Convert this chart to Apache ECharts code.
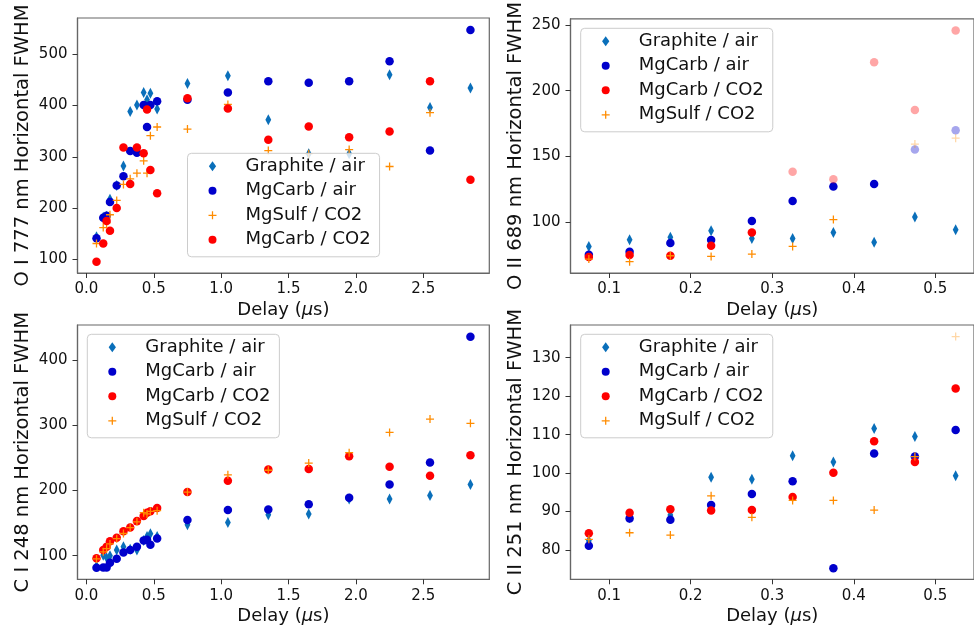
<!DOCTYPE html>
<html>
<head>
<meta charset="utf-8">
<script src="https://cdn.jsdelivr.net/npm/echarts@6/dist/echarts.min.js"></script>
<style>
  html, body { margin: 0; padding: 0; background: #fff; }
  #chart { width: 974px; height: 628px; }
</style>
</head>
<body>
<div id="chart"></div>
<script>
// ---------- data ----------
const delaysLong = [0.075, 0.125, 0.15, 0.175, 0.225, 0.275, 0.325, 0.375, 0.425, 0.45, 0.475, 0.525, 0.75, 1.05, 1.35, 1.65, 1.95, 2.25, 2.55, 2.85];
const delaysShort = [0.075, 0.125, 0.175, 0.225, 0.275, 0.325, 0.375, 0.425, 0.475, 0.525];

// O I 777 nm
const oi777Graphite = [144, 182, 184, 217, 244, 282, 388, 401, 425, 411, 424, 393, 443, 458, 372, 306, 306, 460, 396, 434];
const oi777MgCarbAir = [141, 181, 185, 212, 244, 262, 311, 308, 401, 358, 401, 408, 411, 425, 447, 444, 447, 486, 312, 547];
const oi777MgSulfCO2 = [131, 162, 171, 187, 215, 246, 257, 268, 292, 268, 341, 358, 354, 402, 312, 306, 314, 281, 386, null];
const oi777MgCarbCO2 = [95.5, 131, 175, 156, 200, 318, 247, 318, 307, 392, 274, 229, 414, 394, 333, 359, 338, 349, 447, 255];

// O II 689 nm
const oii689Graphite = [81.8, 86.8, 88.8, 93.6, 87.8, 87.8, 92.4, 85, 104.2, 94.4];
const oii689MgCarbAir = [75.5, 77.8, 84.3, 86.6, 101, 116.3, 127.2, 129.2, 155.4, 170];
const oii689MgCarbCO2 = [73.7, 75.2, 74.7, 82.3, 92.4, 138.5, 132.8, 221.7, 185.4, 245.7];
const oii689MgSulfCO2 = [72.2, 70.2, 74.7, 74.2, 76, 81.8, 102.2, null, 159.5, 164];
// delays whose points are drawn faded in the O II panel
const oii689FadedMgCarbAir = [0.475, 0.525];
const oii689FadedMgCarbCO2 = [0.325, 0.375, 0.425, 0.475, 0.525];
const oii689FadedMgSulfCO2 = [0.475, 0.525];

// C I 248 nm
const ci248Graphite = [84, 100.6, 97, 100, 108.7, 113.8, 110, 108.7, 123.4, 129.5, 133.6, 129.5, 147.5, 151, 162.7, 164, 187, 187, 192.3, 209.3];
const ci248MgCarbAir = [81.5, 82, 82, 89, 95.3, 105, 108.7, 113.8, 123.4, 124.4, 116.8, 126.4, 154.6, 170, 171, 179, 188.8, 209.3, 243, 435.7];
const ci248MgCarbCO2 = [95.9, 108.7, 113.8, 122, 127.5, 137.6, 143.4, 153, 160.7, 165.8, 168, 173.2, 197.6, 215, 232, 233, 252.6, 236.5, 222.6, 254];
const ci248MgSulfCO2 = [95, 106, 111, 118, 126, 134, 143, 152, 166, 164, 168, 169, 197.6, 224, 231, 242, 258, 289, 309.5, 303];

// C II 251 nm
const cii251Graphite = [82.4, 88.4, 89.1, 98.9, 98.4, 104.5, 102.9, 111.6, 109.5, 99.3];
const cii251MgCarbAir = [81.1, 88.2, 87.9, 91.7, 94.6, 97.9, 75.3, 105.1, 104.3, 111.2];
const cii251MgCarbCO2 = [84.4, 89.7, 90.6, 90.3, 90.4, 93.8, 100.1, 108.3, 102.9, 122];
const cii251MgSulfCO2 = [82.8, 84.5, 83.9, 94.1, 88.5, 92.9, 92.9, 90.4, 104.3, 135.5];
const cii251FadedMgSulfCO2 = [0.525];

// tick labels
const xTicksLong = [0, 0.5, 1.0, 1.5, 2.0, 2.5];
const xTicksShort = [0.1, 0.2, 0.3, 0.4, 0.5];
const yTicksOI = [100, 200, 300, 400, 500];
const yTicksOII = [100, 150, 200, 250];
const yTicksCI = [100, 200, 300, 400];
const yTicksCII = [80, 90, 100, 110, 120, 130];

const yTitles = ['O I 777 nm Horizontal FWHM', 'O II 689 nm Horizontal FWHM', 'C I 248 nm Horizontal FWHM', 'C II 251 nm Horizontal FWHM'];
const xTitle = 'Delay ({i|\u03bc}s)';

const NAME_G = 'Graphite / air';
const NAME_MA = 'MgCarb / air';
const NAME_MC = 'MgCarb / CO2';
const NAME_MS = 'MgSulf / CO2';

// ---------- styles ----------
const FONT = 'DejaVu Sans';
const TXT = '#111';
const STY = {};
STY[NAME_G] = { color: '#0a6fba', symbol: 'path://M4,0L8,5.5L4,11L0,5.5Z', size: [8, 11] };
STY[NAME_MA] = { color: '#0000cc', symbol: 'circle', size: 8.5 };
STY[NAME_MC] = { color: '#ff0000', symbol: 'circle', size: 8.5 };
STY[NAME_MS] = { color: '#ff8c00', symbol: 'path://M4.2,0H5.8V4.2H10V5.8H5.8V10H4.2V5.8H0V4.2H4.2Z', size: 8 };

const grids = [
  { left: 77.5, top: 18, width: 411.8, height: 255 },
  { left: 570.5, top: 18, width: 411.8, height: 255 },
  { left: 77.5, top: 325, width: 411.8, height: 254.3 },
  { left: 570.5, top: 325, width: 411.8, height: 254.3 }
];
const xRanges = [[-0.066, 2.99], [0.0525, 0.5475], [-0.066, 2.99], [0.0525, 0.5475]];
const yRanges = [[73.5, 570.4], [61.6, 254.5], [63.8, 453.7], [72.4, 138.5]];
const xTickSets = [xTicksLong, xTicksShort, xTicksLong, xTicksShort];
const yTickSets = [yTicksOI, yTicksOII, yTicksCI, yTicksCII];

function mkX(i) {
  return {
    type: 'value', gridIndex: i, min: xRanges[i][0], max: xRanges[i][1],
    splitLine: { show: false },
    axisLine: { show: true, onZero: false, lineStyle: { color: '#666', width: 1.2 } },
    axisTick: { show: true, length: 5, customValues: xTickSets[i], lineStyle: { color: '#333', width: 1 } },
    axisLabel: { customValues: xTickSets[i], margin: 9, fontSize: 15, color: TXT, fontFamily: FONT,
      formatter: v => v.toFixed(1) },
    name: xTitle, nameLocation: 'middle', nameGap: 28,
    nameTextStyle: { fontSize: 18, color: TXT, fontFamily: FONT,
      rich: { i: { fontStyle: 'italic', fontSize: 18, color: TXT, fontFamily: FONT } } }
  };
}
function mkY(i) {
  return {
    type: 'value', gridIndex: i, min: yRanges[i][0], max: yRanges[i][1],
    splitLine: { show: false },
    axisLine: { show: true, onZero: false, lineStyle: { color: '#666', width: 1.2 } },
    axisTick: { show: true, length: 5, customValues: yTickSets[i], lineStyle: { color: '#333', width: 1 } },
    axisLabel: { customValues: yTickSets[i], margin: 10, fontSize: 15, color: TXT, fontFamily: FONT,
      formatter: v => String(Math.round(v)) },
    name: yTitles[i], nameLocation: 'middle', nameGap: 45, nameRotate: 90,
    nameTextStyle: { fontSize: 19.5, color: TXT, fontFamily: FONT }
  };
}

function mkSeries(i, name, xs, ys, faded) {
  const s = STY[name];
  const data = [];
  xs.forEach((x, k) => {
    const v = ys[k];
    if (v === null || v === undefined) return;
    if (faded && faded.indexOf(x) >= 0) {
      data.push({ value: [x, v], itemStyle: { opacity: 0.35 } });
    } else {
      data.push([x, v]);
    }
  });
  return {
    type: 'scatter', name: name, xAxisIndex: i, yAxisIndex: i,
    symbol: s.symbol, symbolSize: s.size, symbolKeepAspect: true,
    itemStyle: { color: s.color, opacity: 1 },
    emphasis: { disabled: true },
    data: data
  };
}

const series = [
  mkSeries(0, NAME_G, delaysLong, oi777Graphite),
  mkSeries(0, NAME_MA, delaysLong, oi777MgCarbAir),
  mkSeries(0, NAME_MS, delaysLong, oi777MgSulfCO2),
  mkSeries(0, NAME_MC, delaysLong, oi777MgCarbCO2),

  mkSeries(1, NAME_G, delaysShort, oii689Graphite),
  mkSeries(1, NAME_MA, delaysShort, oii689MgCarbAir, oii689FadedMgCarbAir),
  mkSeries(1, NAME_MC, delaysShort, oii689MgCarbCO2, oii689FadedMgCarbCO2),
  mkSeries(1, NAME_MS, delaysShort, oii689MgSulfCO2, oii689FadedMgSulfCO2),

  mkSeries(2, NAME_G, delaysLong, ci248Graphite),
  mkSeries(2, NAME_MA, delaysLong, ci248MgCarbAir),
  mkSeries(2, NAME_MC, delaysLong, ci248MgCarbCO2),
  mkSeries(2, NAME_MS, delaysLong, ci248MgSulfCO2),

  mkSeries(3, NAME_G, delaysShort, cii251Graphite),
  mkSeries(3, NAME_MA, delaysShort, cii251MgCarbAir),
  mkSeries(3, NAME_MC, delaysShort, cii251MgCarbCO2),
  mkSeries(3, NAME_MS, delaysShort, cii251MgSulfCO2, cii251FadedMgSulfCO2)
];

function mkLegend(left, top, names) {
  return {
    orient: 'vertical', left: left, top: top,
    data: names, selectedMode: false,
    itemWidth: 8, itemHeight: 10, itemGap: 6.5, symbolKeepAspect: true,
    padding: [4, 9, 8, 21],
    backgroundColor: 'rgba(255,255,255,0.8)', borderColor: '#cccccc', borderWidth: 1, borderRadius: 4,
    formatter: n => '{t|' + n + '}',
    textStyle: { fontSize: 18, color: TXT, fontFamily: FONT,
      rich: { t: { fontSize: 18, lineHeight: 20, color: TXT, fontFamily: FONT, padding: [0, 0, 0, 24] } } }
  };
}

const legends = [
  mkLegend(187.5, 153.3, [NAME_G, NAME_MA, NAME_MS, NAME_MC]),
  mkLegend(580.7, 28.3, [NAME_G, NAME_MA, NAME_MC, NAME_MS]),
  mkLegend(87.3, 334.3, [NAME_G, NAME_MA, NAME_MC, NAME_MS]),
  mkLegend(580.7, 334.3, [NAME_G, NAME_MA, NAME_MC, NAME_MS])
];

const chart = echarts.init(document.getElementById('chart'), null, { renderer: 'canvas' });
chart.setOption({
  animation: false,
  backgroundColor: '#ffffff',
  grid: grids.map(g => Object.assign({ show: true, borderColor: '#666', borderWidth: 1.2, backgroundColor: 'transparent' }, g)),
  xAxis: [0, 1, 2, 3].map(mkX),
  yAxis: [0, 1, 2, 3].map(mkY),
  legend: legends,
  series: series
});
</script>
</body>
</html>
